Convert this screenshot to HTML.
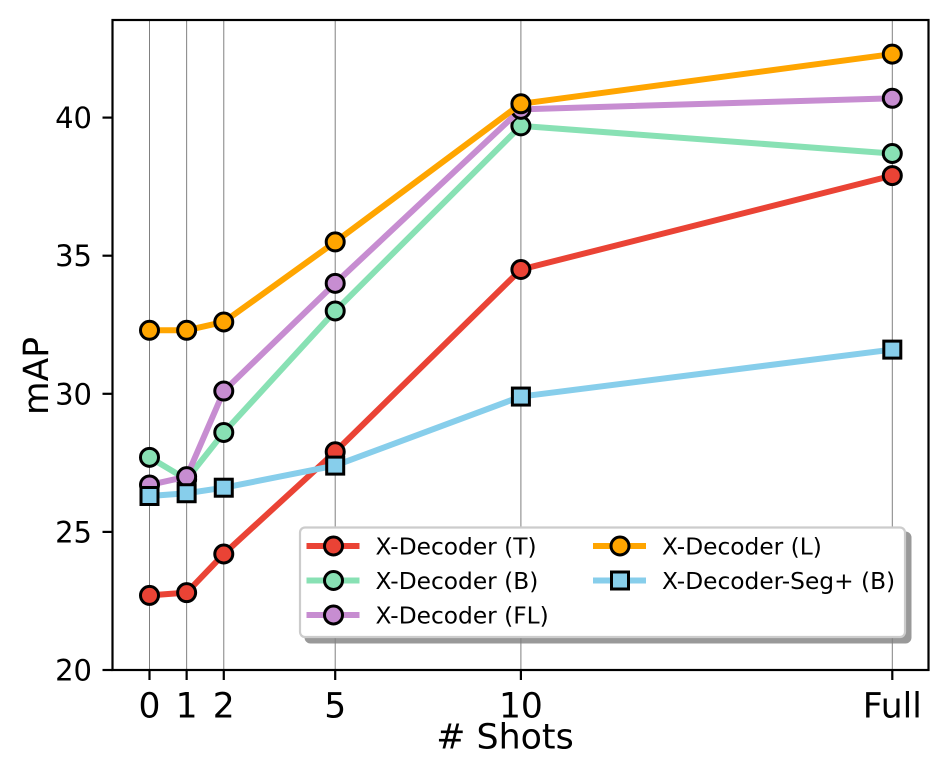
<!DOCTYPE html>
<html>
<head>
<meta charset="utf-8">
<style>
html,body{margin:0;padding:0;background:#fff;}
svg{display:block;}
text{font-family:"DejaVu Sans","Liberation Sans",sans-serif;fill:#000;}
</style>
</head>
<body>
<svg id="chart" xmlns="http://www.w3.org/2000/svg" width="950" height="777" viewBox="0 0 950 777"></svg>
<script>
const shotPositions = [0, 1, 2, 5, 10, 20];
const xTickLabels = ['0', '1', '2', '5', '10', 'Full'];
const yTicks = [20, 25, 30, 35, 40];
const seriesNames = ['X-Decoder (T)', 'X-Decoder (B)', 'X-Decoder (FL)', 'X-Decoder (L)', 'X-Decoder-Seg+ (B)'];
const seriesT = [22.7, 22.8, 24.2, 27.9, 34.5, 37.9];
const seriesB = [27.7, 26.9, 28.6, 33.0, 39.7, 38.7];
const seriesFL = [26.7, 27.0, 30.1, 34.0, 40.3, 40.7];
const seriesL = [32.3, 32.3, 32.6, 35.5, 40.5, 42.3];
const seriesSeg = [26.3, 26.4, 26.6, 27.4, 29.9, 31.6];

const allSeries = [seriesT, seriesB, seriesFL, seriesL, seriesSeg];
const colors = ['#EA4335', '#88E1B4', '#C78DD1', '#FFA500', '#87CEEB'];
const slugs = ['t', 'b', 'fl', 'l', 'seg-plus-b'];
const svg = document.getElementById('chart');
const NS = 'http://www.w3.org/2000/svg';
function xAxis(v) { return 149.5 + v * 37.14; }
function yAxis(v) { return 670 - (v - 20) * 27.62; }
function make(tag, attrs, name) {
  const el = document.createElementNS(NS, tag);
  for (const k in attrs) el.setAttribute(k, attrs[k]);
  
  
  return el;
}
function marker(parent, cx, cy, color, square, name) {
  if (square) {
    parent.appendChild(make('rect', {x: cx - 8.5, y: cy - 8.5, width: 17, height: 17, fill: color, stroke: '#000', 'stroke-width': 3}, name));
  } else {
    parent.appendChild(make('circle', {cx: cx, cy: cy, r: 9, fill: color, stroke: '#000', 'stroke-width': 3}, name));
  }
}
// vertical grid lines
shotPositions.forEach(function (s, i) {
  svg.appendChild(make('line', {x1: xAxis(s), x2: xAxis(s), y1: 20, y2: 670, stroke: '#808080', 'stroke-width': 1}, 'grid-line-' + xTickLabels[i].toLowerCase()));
});
// series
allSeries.forEach(function (vals, si) {
  const g = make('g', {}, 'series-' + slugs[si]);
  const pts = vals.map(function (v, i) { return xAxis(shotPositions[i]) + ',' + yAxis(v); }).join(' ');
  g.appendChild(make('polyline', {points: pts, fill: 'none', stroke: colors[si], 'stroke-width': 6, 'stroke-linejoin': 'round', 'stroke-linecap': 'square'}, 'line-' + slugs[si]));
  vals.forEach(function (v, i) {
    marker(g, xAxis(shotPositions[i]), yAxis(v), colors[si], si === 4, 'point-' + slugs[si] + '-' + xTickLabels[i].toLowerCase());
  });
  svg.appendChild(g);
});
// axes frame
svg.appendChild(make('rect', {x: 112.5, y: 20, width: 816, height: 650, fill: 'none', stroke: '#000', 'stroke-width': 2.2}, 'plot-frame'));
// ticks
shotPositions.forEach(function (s, i) {
  const x = xAxis(s);
  svg.appendChild(make('line', {x1: x, x2: x, y1: 670, y2: 680, stroke: '#000', 'stroke-width': 2.2}, 'x-tick-' + xTickLabels[i].toLowerCase()));
  const t = make('text', {x: x, y: 717.3, 'font-size': 34.5, 'text-anchor': 'middle'}, 'x-tick-label-' + xTickLabels[i].toLowerCase());
  t.textContent = xTickLabels[i];
  svg.appendChild(t);
});
yTicks.forEach(function (v) {
  const y = yAxis(v);
  svg.appendChild(make('line', {x1: 112.5, x2: 102.5, y1: y, y2: y, stroke: '#000', 'stroke-width': 2.2}, 'y-tick-' + v));
  const t = make('text', {x: 92, y: y + 10.5, 'font-size': 29, 'text-anchor': 'end'}, 'y-tick-label-' + v);
  t.textContent = String(v);
  svg.appendChild(t);
});
// axis titles
const xTitle = make('text', {x: 505, y: 748.3, 'font-size': 34.8, 'text-anchor': 'middle'}, 'x-axis-title');
xTitle.textContent = '# Shots';
svg.appendChild(xTitle);
const yTitle = make('text', {x: 0, y: 0, 'font-size': 34.5, 'text-anchor': 'middle', transform: 'translate(48 376) rotate(-90)'}, 'y-axis-title');
yTitle.textContent = 'mAP';
svg.appendChild(yTitle);
// legend
const legend = make('g', {}, 'legend');
legend.appendChild(make('rect', {x: 305.5, y: 532.5, width: 605, height: 110, rx: 5, fill: '#808080', stroke: '#808080', 'stroke-width': 2, opacity: 0.8}, 'legend-shadow'));
legend.appendChild(make('rect', {x: 300, y: 527.5, width: 605, height: 109.5, rx: 5, fill: '#fff', stroke: '#ccc', 'stroke-width': 2.2}, 'legend-box'));
const legendX = [306.5, 593];
const legendY = [546, 580.5, 615];
seriesNames.forEach(function (name, i) {
  const col = i < 3 ? 0 : 1;
  const row = i < 3 ? i : i - 3;
  const entry = make('g', {}, 'legend-entry-' + slugs[i]);
  const lx = legendX[col], ly = legendY[row];
  entry.appendChild(make('line', {x1: lx, x2: lx + 53, y1: ly, y2: ly, stroke: colors[i], 'stroke-width': 6}, 'legend-line-' + slugs[i]));
  marker(entry, lx + 27, ly, colors[i], i === 4, 'legend-marker-' + slugs[i]);
  const t = make('text', {x: lx + 69, y: ly + 8.5, 'font-size': 23.3}, 'legend-label-' + slugs[i]);
  t.textContent = name;
  entry.appendChild(t);
  legend.appendChild(entry);
});
svg.appendChild(legend);
</script>
</body>
</html>
